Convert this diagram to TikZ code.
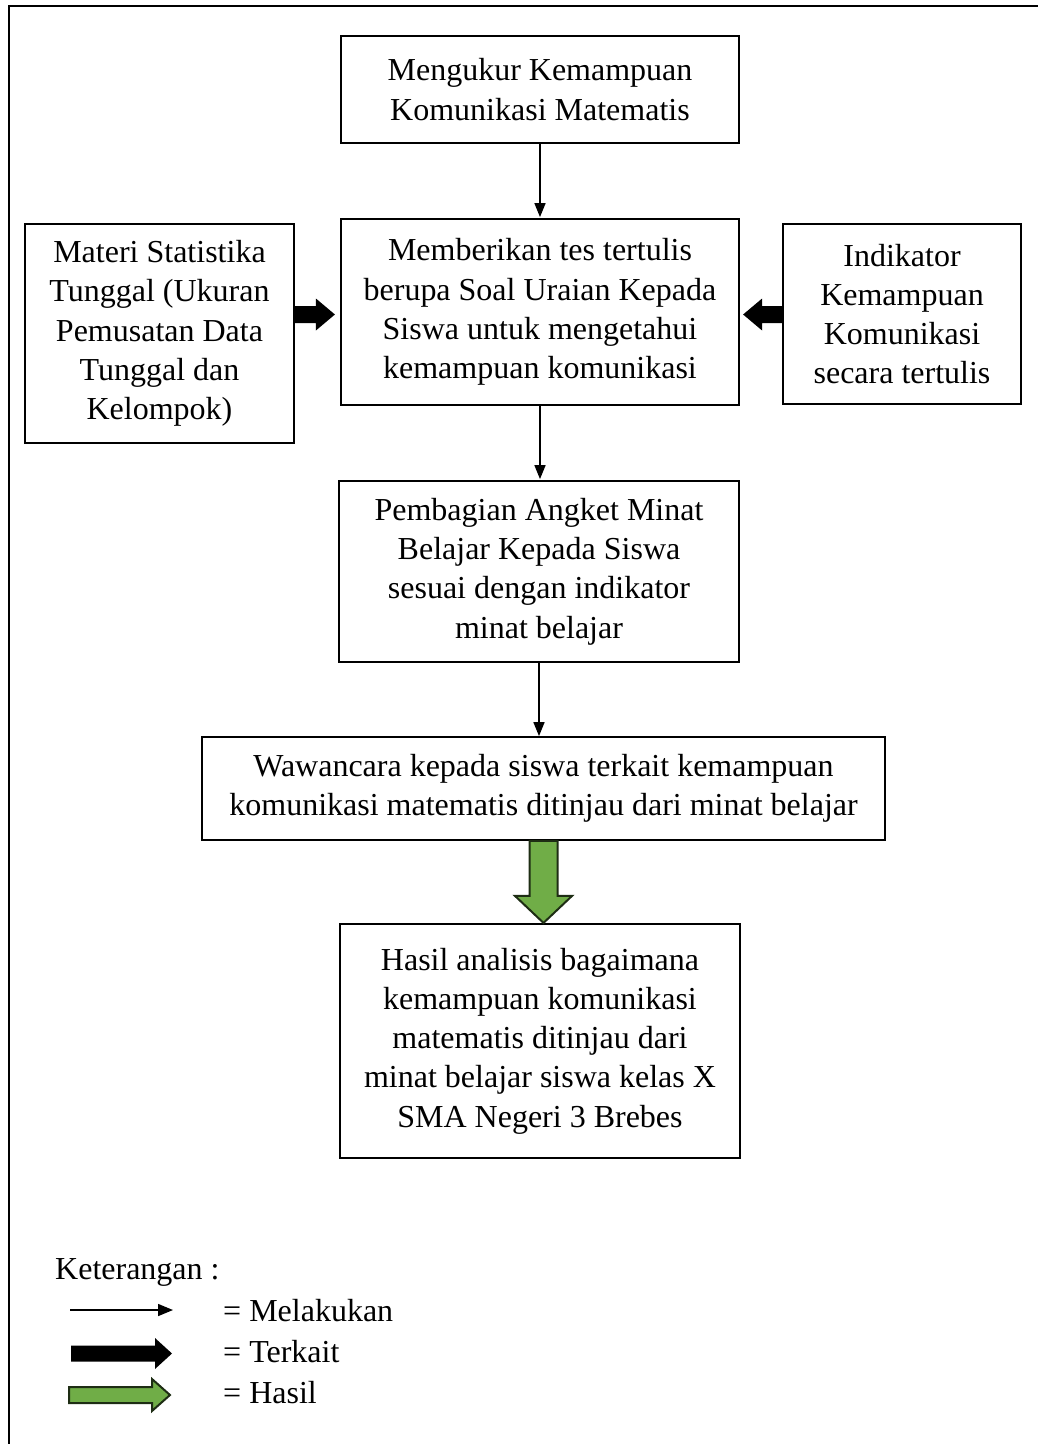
\documentclass[tikz,border=0pt]{standalone}
\usepackage{fontspec}
\setmainfont{Liberation Serif}
\usetikzlibrary{calc,arrows.meta}
\definecolor{hasilgreen}{RGB}{112,173,71}
\definecolor{hasilborder}{RGB}{30,45,20}
\begin{document}
\begin{tikzpicture}[x=1pt,y=-1pt,
  box/.style={draw,line width=1.8pt,align=center,inner sep=0pt,
    font=\fontsize{32}{39.3}\selectfont},
  thin/.style={line width=1.6pt,-{Triangle[length=14pt,width=11pt]}},
  thick/.style={fill=black,draw=none},
  green/.style={fill=hasilgreen,draw=hasilborder,line width=2pt,line join=miter},
  legend/.style={anchor=base west,inner sep=0pt,font=\fontsize{32}{39.3}\selectfont}]
\useasboundingbox (0,0) rectangle (1038,1444);
% frame
\draw[line width=2pt] (9,1444) -- (9,6) -- (1038,6);
% boxes
\node[box,minimum width=398pt,minimum height=107pt] (b1) at (540,89.5)
  {Mengukur Kemampuan\\Komunikasi Matematis};
\node[box,minimum width=398pt,minimum height=186pt] (b2) at (540,312)
  {Memberikan tes tertulis\\berupa Soal Uraian Kepada\\Siswa untuk mengetahui\\kemampuan komunikasi};
\node[box,minimum width=269pt,minimum height=219pt] (lb) at (159.5,333.5)
  {Materi Statistika\\Tunggal (Ukuran\\Pemusatan Data\\Tunggal dan\\Kelompok)};
\node[box,minimum width=238pt,minimum height=180pt] (rb) at (902,314)
  {Indikator\\Kemampuan\\Komunikasi\\secara tertulis};
\node[box,minimum width=400pt,minimum height=181pt] (b3) at (539,571.5)
  {Pembagian Angket Minat\\Belajar Kepada Siswa\\sesuai dengan indikator\\minat belajar};
\node[box,minimum width=683pt,minimum height=103pt] (b4) at (543.5,788.5)
  {Wawancara kepada siswa terkait kemampuan\\komunikasi matematis ditinjau dari minat belajar};
\node[box,minimum width=400pt,minimum height=234pt] (b5) at (540,1041)
  {Hasil analisis bagaimana\\kemampuan komunikasi\\matematis ditinjau dari\\minat belajar siswa kelas X\\SMA Negeri 3 Brebes};
% thin arrows
\draw[thin] (b1.south) -- ($(b2.north)+(0,-1)$);
\draw[thin] (b2.south) -- ($(b2.south |- b3.north)+(0,-1)$);
\draw[thin] (b3.south) -- (b3.south |- b4.north);
% thick arrow left -> b2
\coordinate (la) at ($(lb.east |- b2.west)+(0,2.5)$);
\fill[thick] ($(la)+(0,-8.5)$) -- ($(la)+(21,-8.5)$) -- ($(la)+(21,-16)$) -- ($(la)+(40,0)$)
  -- ($(la)+(21,16)$) -- ($(la)+(21,8.5)$) -- ($(la)+(0,8.5)$) -- cycle;
% thick arrow right -> b2
\coordinate (ra) at ($(rb.west |- b2.east)+(0,2.5)$);
\fill[thick] ($(ra)+(0,-8.5)$) -- ($(ra)+(-20,-8.5)$) -- ($(ra)+(-20,-16)$) -- ($(ra)+(-39,0)$)
  -- ($(ra)+(-20,16)$) -- ($(ra)+(-20,8.5)$) -- ($(ra)+(0,8.5)$) -- cycle;
% green arrow b4 -> b5
\coordinate (ga) at (b4.south);
\draw[green] ($(ga)+(-14,0)$) -- ($(ga)+(-14,55)$) -- ($(ga)+(-28.5,55)$) -- ($(ga)+(0,82)$)
  -- ($(ga)+(28.5,55)$) -- ($(ga)+(14,55)$) -- ($(ga)+(14,0)$) -- cycle;
% legend
\node[legend] (kt) at (55,1279) {Keterangan :};
\node[legend] (l1) at (223,1321) {= Melakukan};
\node[legend] (l2) at (223,1362) {= Terkait};
\node[legend] (l3) at (223,1403) {= Hasil};
\coordinate (a1s) at (70,1310);
\coordinate (a1e) at (173,1310);
\draw[line width=1.6pt,-{Triangle[length=15pt,width=12pt]}] (a1s) -- (a1e);
\coordinate (a2) at (71,1353.5);
\fill[thick] ($(a2)+(0,-8)$) -- ($(a2)+(84,-8)$) -- ($(a2)+(84,-15.5)$) -- ($(a2)+(101,0)$)
  -- ($(a2)+(84,15.5)$) -- ($(a2)+(84,8)$) -- ($(a2)+(0,8)$) -- cycle;
\coordinate (a3) at (69,1395);
\draw[green] ($(a3)+(0,-8)$) -- ($(a3)+(83,-8)$) -- ($(a3)+(83,-16)$) -- ($(a3)+(101,0)$)
  -- ($(a3)+(83,16)$) -- ($(a3)+(83,8)$) -- ($(a3)+(0,8)$) -- cycle;
\end{tikzpicture}
\end{document}
